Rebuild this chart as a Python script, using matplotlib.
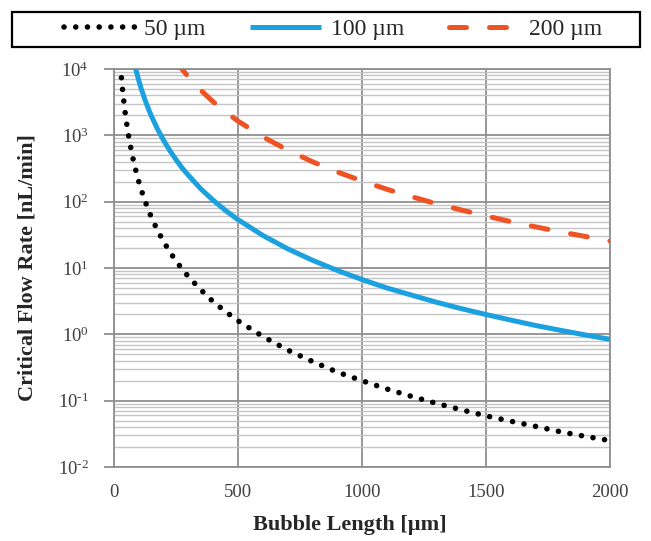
import numpy as np
import matplotlib
matplotlib.use("Agg")
import matplotlib.pyplot as plt
from matplotlib.ticker import LogLocator, FixedLocator, FuncFormatter, NullFormatter
from matplotlib.lines import Line2D
from matplotlib.patches import Rectangle

plt.rcParams['font.family'] = ['Liberation Serif', 'DejaVu Serif']
plt.rcParams['mathtext.fontset'] = 'custom'
plt.rcParams['mathtext.rm'] = 'Liberation Serif'
plt.rcParams['mathtext.it'] = 'Liberation Serif:italic'
plt.rcParams['mathtext.bf'] = 'Liberation Serif:bold'

# Data: bubble length [um] vs critical flow rate [nL/min]
len_50 = [30, 35, 40, 45, 50, 60, 70, 80, 90, 100, 110, 125, 140, 150, 175, 200, 225, 250, 275, 300,
          350, 400, 450, 500, 600, 700, 800, 900, 1000, 1100, 1200, 1300, 1400, 1500, 1600, 1700,
          1800, 1900, 2000]
q_50 = [7400, 4700, 3150, 2200, 1600, 930, 585, 390, 275, 200, 150, 102, 73, 59, 37, 25, 17.5, 12.8,
        9.6, 7.4, 4.7, 3.1, 2.2, 1.6, 0.93, 0.58, 0.39, 0.27, 0.20, 0.15, 0.116, 0.091, 0.073, 0.059,
        0.049, 0.041, 0.034, 0.029, 0.025]

len_100 = [80, 90, 100, 110, 125, 140, 150, 175, 200, 225, 250, 275, 300, 350, 400, 450, 500, 600, 700,
           800, 900, 1000, 1100, 1200, 1300, 1400, 1500, 1600, 1700, 1800, 1900, 2000]
q_100 = [13000, 9200, 6700, 5000, 3430, 2440, 1990, 1250, 840, 590, 430, 320, 250, 156, 105, 73.5,
         53.6, 31, 19.5, 13.1, 9.2, 6.7, 5.0, 3.9, 3.05, 2.44, 1.99, 1.64, 1.36, 1.15, 0.98, 0.84]

len_200 = [250, 275, 300, 350, 400, 450, 500, 600, 700, 800, 900, 1000, 1100, 1200, 1300, 1400, 1500,
           1600, 1700, 1800, 1900, 2000]
q_200 = [13100, 9860, 7600, 4780, 3200, 2250, 1640, 950, 600, 400, 281, 205, 154, 119, 93, 75, 61,
         50, 41.7, 35.1, 29.9, 25.6]

labels = ['50 µm', '100 µm', '200 µm']
x_ticks = [0, 500, 1000, 1500, 2000]
y_decades = [-2, -1, 0, 1, 2, 3, 4]

c_black = '#000000'
c_blue = '#1BA1DF'
c_red = '#F05323'

fig = plt.figure(figsize=(6.51, 5.41), dpi=100)
ax = fig.add_axes([114 / 651, 1 - 467 / 541, 496 / 651, 398 / 541])

dot_style = dict(color=c_black, lw=4.0, linestyle=(0, (0.01, 2.1)), dash_capstyle='round')
blue_style = dict(color=c_blue, lw=3.6, solid_capstyle='butt')
red_style = dict(color=c_red, lw=3.6, linestyle=(0, (3.4, 4.6)), dash_capstyle='round')

ax.plot(len_50, q_50, **dot_style, zorder=5)
ax.plot(len_100, q_100, **blue_style, zorder=5)
ax.plot(len_200, q_200, **red_style, zorder=5)

ax.set_yscale('log')
ax.set_xlim(0, 2000)
ax.set_ylim(1e-2, 1e4)

ax.xaxis.set_major_locator(FixedLocator(x_ticks))
ax.yaxis.set_major_locator(FixedLocator([10.0 ** d for d in y_decades]))
ax.yaxis.set_minor_locator(LogLocator(base=10, subs=np.arange(2, 10), numticks=20))
ax.yaxis.set_minor_formatter(NullFormatter())


def fmt_pow(v, pos):
    e = int(round(np.log10(v)))
    if e < 0:
        return r'$10^{\text{-}%d}$' % (-e)
    return r'$10^{%d}$' % e


ax.yaxis.set_major_formatter(FuncFormatter(fmt_pow))

major_grey = '#8f8f8f'
minor_grey = '#c4c4c4'
ax.grid(True, which='major', axis='both', color=major_grey, lw=1.3, zorder=1)
ax.grid(True, which='minor', axis='y', color=minor_grey, lw=1.0, zorder=1)
ax.set_axisbelow(True)
for s in ax.spines.values():
    s.set_color(major_grey)
    s.set_linewidth(1.3)

ax.tick_params(axis='y', which='major', length=7.2, width=1.3, color=major_grey, pad=11,
               labelsize=13.5, labelcolor='#404040')
ax.tick_params(axis='y', which='minor', length=0)
ax.tick_params(axis='x', which='major', length=0, pad=12, labelsize=13.5, labelcolor='#404040')

ax.set_xlabel('Bubble Length [µm]', fontsize=16, fontweight='bold', color='#262626')
ax.set_ylabel('Critical Flow Rate [nL/min]', fontsize=16, fontweight='bold', color='#262626')
ax.xaxis.set_label_coords(0.476, -0.12)
ax.yaxis.set_label_coords(-0.155, 0.5)

# legend across the top with a plain black box
fig.patches.append(Rectangle((12 / 651, 1 - 47 / 541), 628 / 651, 35 / 541,
                             transform=fig.transFigure, fill=False, edgecolor='black', lw=1.6))
handles = [Line2D([], [], **dot_style), Line2D([], [], **blue_style), Line2D([], [], **red_style)]
fig.legend(handles, labels, loc='center', bbox_to_anchor=(333 / 651, 1 - 29.5 / 541), ncol=3,
           frameon=False, fontsize=17, handlelength=3.0, handletextpad=0.4, columnspacing=1.9,
           labelcolor='#262626')

fig.savefig('out.png', dpi=100)
